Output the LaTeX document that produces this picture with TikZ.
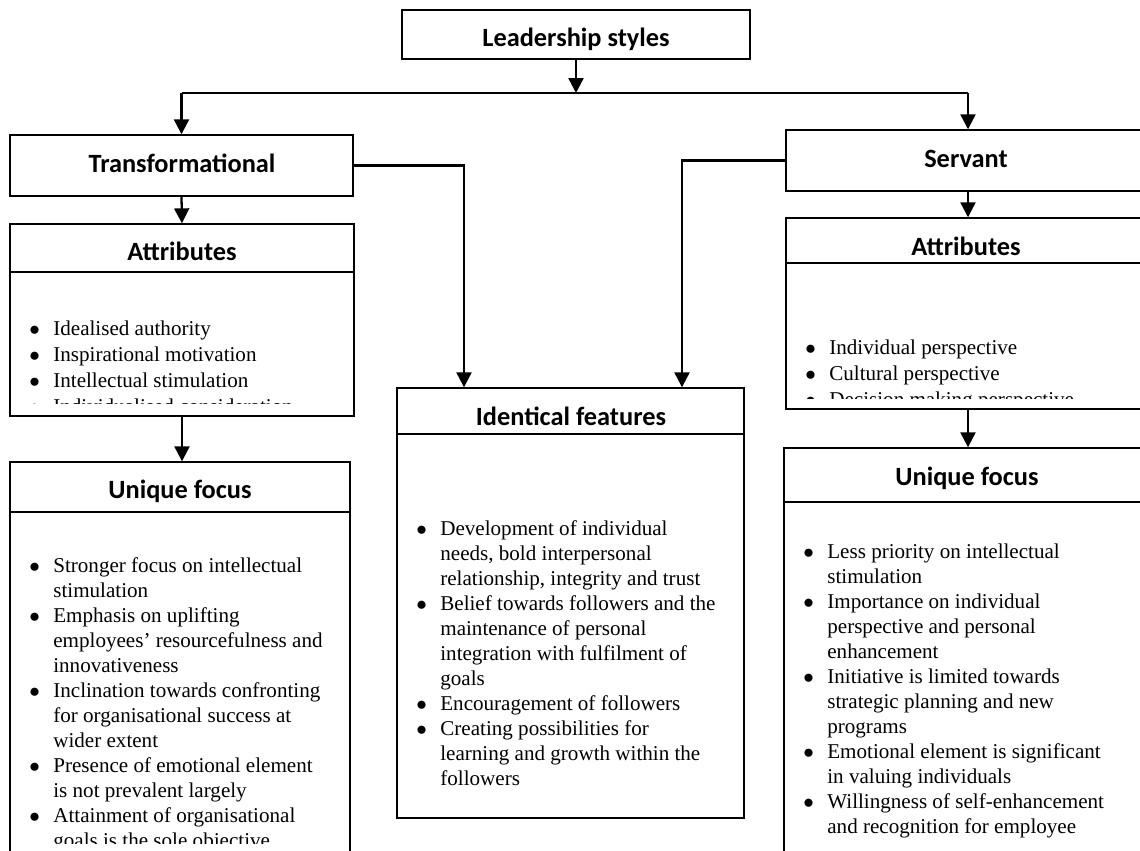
\documentclass[tikz,border=0pt]{standalone}
\usepackage{fontspec}
\setmainfont{Liberation Serif}
\newfontfamily\headfont{Carlito}
\usetikzlibrary{positioning,arrows.meta,fit}
\tikzset{
  box/.style={draw=black, line width=0.8pt, inner sep=0pt},
  heading/.style={font=\headfont\bfseries\fontsize{15}{18}\selectfont, anchor=base, inner sep=0pt},
  items/.style={font=\fontsize{12}{14.23}\selectfont, anchor=base west, inner sep=0pt},
  wideitems/.style={items, font=\fontsize{12}{14.8}\selectfont},
  rule/.style={draw=black, line width=1.3pt},
  link/.style={draw=black, line width=1.3pt},
  thinlink/.style={draw=black, line width=0.9pt},
  arr/.style={link, -{Triangle[width=8.5pt,length=8.5pt]}}
}
\newcommand{\bitems}[1]{\begin{tabular}[t]{@{}p{0.48cm}@{}l@{}}#1\end{tabular}}
\newcommand{\bul}{$\bullet$}

\begin{document}
\begin{tikzpicture}[x=0.02cm,y=-0.02cm]
  \clip (0,0) rectangle (1140,850);
  % boxes
  \node[box, fit={(402,10) (750,59)}] (lead) {};
  \node[box, fit={(10,135) (353,196)}] (trans) {};
  \node[box, fit={(786,130) (1150,191)}] (serv) {};
  \node[box, fit={(10,224) (354,416)}] (attL) {};
  \node[box, fit={(786,218) (1150,409)}] (attR) {};
  \node[box, fit={(10,462) (350,880)}] (uniqL) {};
  \node[box, fit={(784,448) (1150,880)}] (uniqR) {};
  \node[box, fit={(397,388) (744,818)}] (ident) {};

  % headings
  \node[heading] (leadT) at (576,46) {Leadership styles};
  \node[heading] (transT) at (182,172) {Transformational};
  \node[heading] (servT) at (966,167) {Servant};
  \node[heading] (attLT) at (182,260) {Attributes};
  \node[heading] (attRT) at (966,255) {Attributes};
  \node[heading] (uniqLT) at (180,498) {Unique focus};
  \node[heading] (uniqRT) at (967,485) {Unique focus};
  \node[heading] (identT) at (571,425) {Identical features};

  \draw[rule] (attL.west |- 0,272) -- (attL.east |- 0,272);
  \draw[rule] (attR.west |- 0,263) -- (attR.east |- 0,263);
  \draw[rule, line width=1pt] (uniqL.west |- 0,512) -- (uniqL.east |- 0,512);
  \draw[rule, line width=1pt] (uniqR.west |- 0,502) -- (uniqR.east |- 0,502);
  \draw[rule] (ident.west |- 0,434) -- (ident.east |- 0,434);

  % lists
  \begin{scope}
    \clip (10,272) rectangle (354,403);
    \node[wideitems] (attLlist) at (29,335) {\bitems{
      \bul & Idealised authority\\
      \bul & Inspirational motivation\\
      \bul & Intellectual stimulation\\
      \bul & Individualised consideration\\}};
  \end{scope}
  \begin{scope}
    \clip (786,263) rectangle (1150,398);
    \node[wideitems] (attRlist) at (805,354) {\bitems{
      \bul & Individual perspective\\
      \bul & Cultural perspective\\
      \bul & Decision making perspective\\}};
  \end{scope}
  \begin{scope}
    \clip (10,512) rectangle (350,843);
    \node[items] (uniqLlist) at (29,572) {\bitems{
      \bul & Stronger focus on intellectual\\
           & stimulation\\
      \bul & Emphasis on uplifting\\
           & employees’ resourcefulness and\\
           & innovativeness\\
      \bul & Inclination towards confronting\\
           & for organisational success at\\
           & wider extent\\
      \bul & Presence of emotional element\\
           & is not prevalent largely\\
      \bul & Attainment of organisational\\
           & goals is the sole objective\\}};
  \end{scope}
  \node[items] (identlist) at (416,535) {\bitems{
    \bul & Development of individual\\
         & needs, bold interpersonal\\
         & relationship, integrity and trust\\
    \bul & Belief towards followers and the\\
         & maintenance of personal\\
         & integration with fulfilment of\\
         & goals\\
    \bul & Encouragement of followers\\
    \bul & Creating possibilities for\\
         & learning and growth within the\\
         & followers\\}};
  \node[items] (uniqRlist) at (803,558) {\bitems{
    \bul & Less priority on intellectual\\
         & stimulation\\
    \bul & Importance on individual\\
         & perspective and personal\\
         & enhancement\\
    \bul & Initiative is limited towards\\
         & strategic planning and new\\
         & programs\\
    \bul & Emotional element is significant\\
         & in valuing individuals\\
    \bul & Willingness of self-enhancement\\
         & and recognition for employee\\}};

  % connectors
  \coordinate (split) at (576,93);
  \draw[arr] (lead.south) -- (split);
  \draw[thinlink] (trans.north |- split) -- (serv.north |- split);
  \draw[arr] (trans.north |- split) -- (trans.north);
  \draw[arr] (serv.north |- split) -- (serv.north);
  \draw[arr] (trans.south) -- (attL.north);
  \draw[arr] (attL.south) -- (attL.south |- uniqL.north);
  \draw[arr] (serv.south) -- (attR.north);
  \draw[arr] (attR.south) -- (attR.south |- uniqR.north);
  \draw[arr] (trans.east) -| (ident.north -| 464,0);
  \draw[arr] (serv.west) -| (ident.north -| 682,0);
\end{tikzpicture}
\end{document}
